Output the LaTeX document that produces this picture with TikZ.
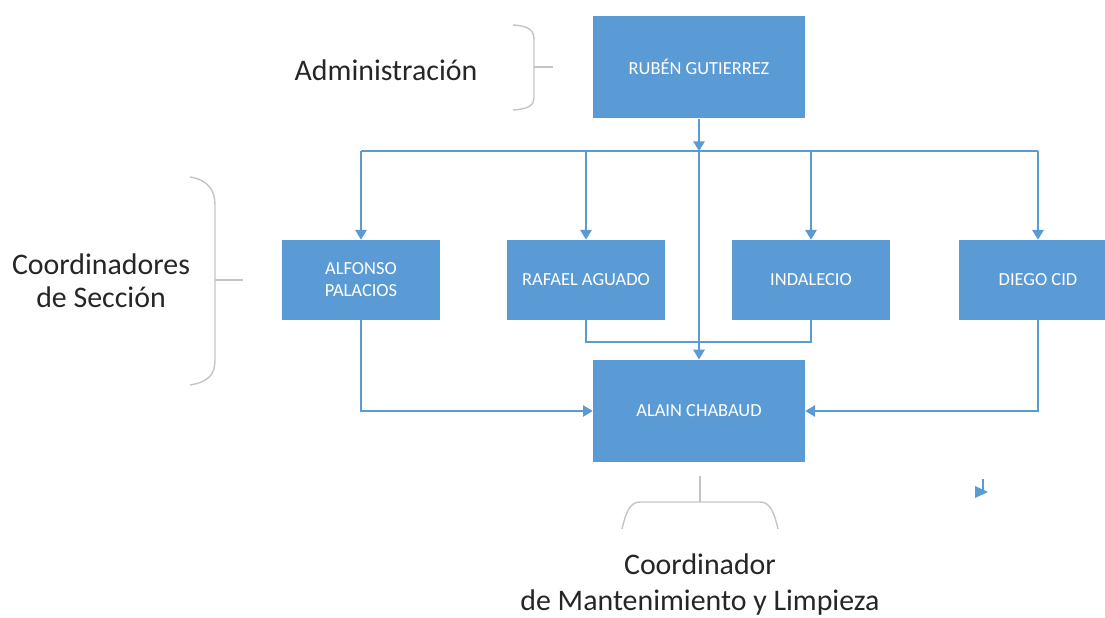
\documentclass[tikz,border=0pt]{standalone}
\usepackage{fontspec}
\setmainfont{Carlito}
\usetikzlibrary{arrows.meta,calc}
\definecolor{boxblue}{HTML}{5B9BD5}
\definecolor{linkblue}{HTML}{5B9BD5}
\definecolor{bracegray}{HTML}{C4C4C4}
\tikzset{
  orgbox/.style={fill=boxblue, draw=none, text=white, font=\fontsize{10.5}{12.5}\selectfont, align=center, inner sep=0pt},
  bigbox/.style={orgbox, minimum width=4.24cm, minimum height=2.05cm},
  smallbox/.style={orgbox, minimum width=3.18cm, minimum height=1.6cm},
  link/.style={draw=linkblue, line width=0.8pt},
  arr/.style={link, -{Triangle[length=5.5pt,width=6.5pt]}},
  bracestyle/.style={draw=bracegray, line width=0.8pt},
  label/.style={font=\fontsize{17}{19}\selectfont, text=black!85, align=center, inner sep=0pt}
}
\begin{document}
\begin{tikzpicture}[x=0.02cm,y=-0.02cm]
\useasboundingbox (0,0) rectangle (1105,618);
% boxes
\node[bigbox] (ruben) at (699,67) {RUBÉN GUTIERREZ};
\node[smallbox] (alfonso) at (361,280) {ALFONSO\\PALACIOS};
\node[smallbox] (rafael) at (586,280) {RAFAEL AGUADO};
\node[smallbox] (indalecio) at (811,280) {INDALECIO};
\node[smallbox] (diego) at (1038,280) {DIEGO CID};
\node[bigbox] (alain) at (699,411) {ALAIN CHABAUD};
% coordinates
\coordinate (bus) at (699,151);
\coordinate (ubar) at (699,342);
% connectors
\draw[arr] (ruben.south) -- (bus);
\draw[link] (alfonso.north |- bus) -- (diego.north |- bus);
\draw[arr] (alfonso.north |- bus) -- (alfonso.north);
\draw[arr] (rafael.north |- bus) -- (rafael.north);
\draw[arr] (indalecio.north |- bus) -- (indalecio.north);
\draw[arr] (diego.north |- bus) -- (diego.north);
\draw[arr] (bus) -- (alain.north);
\draw[link] (rafael.south) -- (rafael.south |- ubar) -- (indalecio.south |- ubar) -- (indalecio.south);
\draw[arr] (alfonso.south) |- (alain.west);
\draw[arr] (diego.south) |- (alain.east);
% braces
\draw[bracestyle] (513,25) .. controls (529,26) and (534,30) .. (534,40) -- (534,98) .. controls (534,105) and (529,109) .. (513,110);
\draw[bracestyle] (534,67) -- (553,67);
\draw[bracestyle] (190,177) .. controls (208,180) and (215,190) .. (215,205) -- (215,360) .. controls (215,375) and (208,382) .. (190,385);
\draw[bracestyle] (215,280) -- (243,280);
\draw[bracestyle] (700,476) -- (700,502);
\draw[bracestyle] (622,529) .. controls (626,512) and (630,502) .. (640,502) -- (760,502) .. controls (770,502) and (774,512) .. (778,529);
% labels
\node[label] (ladmin) at (386,70) {Administración};
\node[label] (lcoord) at (101,281) {Coordinadores\\de Sección};
\node[label] (lmant) at (700,585) {Coordinador\\[1.5pt]de Mantenimiento y Limpieza};
% stray mark
\fill[linkblue] (975,486) -- (988,492) -- (975,498) -- cycle;
\draw[link, line width=0.6pt] (983,479) -- (983,492);
\end{tikzpicture}
\end{document}
